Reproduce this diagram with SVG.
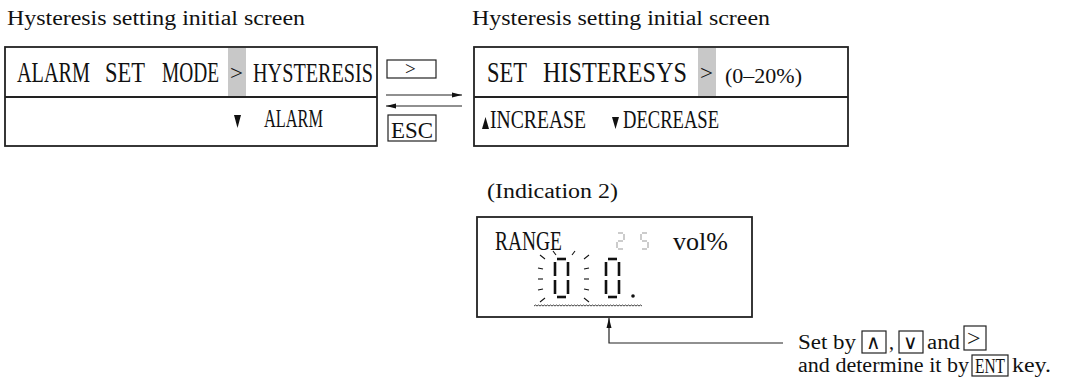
<svg xmlns="http://www.w3.org/2000/svg" width="1084" height="387" viewBox="0 0 1084 387">
<defs>
<style>
.title{font-family:"Liberation Serif",serif;font-size:20px;fill:#111}
.lcd{font-family:"Liberation Serif",serif;fill:#111}
.sym{font-family:"DejaVu Sans",sans-serif;fill:#111}
.box{fill:none;stroke:#222;stroke-width:1.8}
.key{fill:none;stroke:#222;stroke-width:1.2}
.hl{fill:#c8c8c8}
.seg{stroke:#111;stroke-width:2.6;stroke-linecap:butt}
.spark{stroke:#111;stroke-width:1.1}
.seg2{stroke:#aaa;stroke-width:1.2}
.con{fill:none;stroke:#222;stroke-width:1.2}
</style>
<marker id="ah" markerWidth="10" markerHeight="6" refX="10" refY="3" orient="auto" markerUnits="userSpaceOnUse">
<path d="M0,0.5 L10,3 L0,5.5 Z" fill="#111"/>
</marker>
</defs>

<text class="title" x="7" y="25" textLength="298" lengthAdjust="spacingAndGlyphs">Hysteresis setting initial screen</text>
<text class="title" x="472" y="25" textLength="298" lengthAdjust="spacingAndGlyphs">Hysteresis setting initial screen</text>

<g id="screen1">
<rect class="hl" x="228" y="48" width="18" height="49"/>
<rect class="box" x="5" y="47" width="372" height="99"/>
<line class="box" x1="5" y1="97" x2="377" y2="97"/>
<text class="lcd" x="17" y="82" font-size="29" textLength="73" lengthAdjust="spacingAndGlyphs">ALARM</text>
<text class="lcd" x="105" y="82" font-size="29" textLength="40" lengthAdjust="spacingAndGlyphs">SET</text>
<text class="lcd" x="162" y="82" font-size="29" textLength="57" lengthAdjust="spacingAndGlyphs">MODE</text>
<text class="lcd" x="230" y="80" font-size="20" textLength="13" lengthAdjust="spacingAndGlyphs">&gt;</text>
<text class="lcd" x="253" y="82" font-size="27" textLength="120" lengthAdjust="spacingAndGlyphs">HYSTERESIS</text>
<polygon points="234,115 241,115 237.5,128" fill="#111"/>
<text class="lcd" x="264" y="127" font-size="25" textLength="59" lengthAdjust="spacingAndGlyphs">ALARM</text>
</g>

<g id="key-right">
<rect class="key" x="387" y="60" width="49" height="18"/>
<text class="lcd" x="405" y="75" font-size="19">&gt;</text>
</g>
<g id="key-esc">
<rect class="key" x="388" y="115" width="48" height="26"/>
<text class="lcd" x="391" y="138" font-size="24" textLength="42" lengthAdjust="spacingAndGlyphs">ESC</text>
</g>

<g id="screen2">
<rect class="hl" x="698" y="48" width="18" height="49"/>
<rect class="box" x="474" y="47" width="374" height="99"/>
<line class="box" x1="474" y1="97" x2="848" y2="97"/>
<text class="lcd" x="487" y="82" font-size="29" textLength="40" lengthAdjust="spacingAndGlyphs">SET</text>
<text class="lcd" x="543" y="82" font-size="29" textLength="144" lengthAdjust="spacingAndGlyphs">HISTERESYS</text>
<text class="lcd" x="700" y="80" font-size="20" textLength="13" lengthAdjust="spacingAndGlyphs">&gt;</text>
<text class="lcd" x="725" y="83" font-size="21" textLength="77" lengthAdjust="spacingAndGlyphs">(0–20%)</text>
<polygon points="485.5,117 489,129 482,129" fill="#111"/>
<text class="lcd" x="490" y="128" font-size="25" textLength="96" lengthAdjust="spacingAndGlyphs">INCREASE</text>
<polygon points="612,117 619,117 615.5,129" fill="#111"/>
<text class="lcd" x="623" y="128" font-size="25" textLength="96" lengthAdjust="spacingAndGlyphs">DECREASE</text>
</g>

<text id="ind-label" class="title" x="487" y="198" font-size="21" textLength="131" lengthAdjust="spacingAndGlyphs">(Indication 2)</text>

<g id="indication">
<rect class="box" x="477" y="217" width="275" height="100"/>
<text class="lcd" x="495" y="250" font-size="28" textLength="67" lengthAdjust="spacingAndGlyphs">RANGE</text>
<text class="lcd" x="673" y="250" font-size="26" textLength="55" lengthAdjust="spacingAndGlyphs">vol%</text>
<g class="seg2">
<line x1="618" y1="233" x2="623" y2="233"/><line x1="624" y1="234" x2="624" y2="240"/><line x1="618" y1="241" x2="623" y2="241"/><line x1="617" y1="242" x2="617" y2="248"/><line x1="618" y1="249" x2="623" y2="249"/>
<line x1="642" y1="233" x2="647" y2="233"/><line x1="641" y1="234" x2="641" y2="240"/><line x1="642" y1="241" x2="647" y2="241"/><line x1="648" y1="242" x2="648" y2="248"/><line x1="642" y1="249" x2="647" y2="249"/>
</g>
<g class="seg">
<line x1="557" y1="259" x2="566" y2="259"/><line x1="555" y1="262" x2="555" y2="276"/><line x1="555" y1="280" x2="555" y2="294"/><line x1="568" y1="262" x2="568" y2="276"/><line x1="568" y1="280" x2="568" y2="294"/><line x1="557" y1="297" x2="566" y2="297"/>
<line x1="608" y1="259" x2="617" y2="259"/><line x1="606" y1="262" x2="606" y2="276"/><line x1="606" y1="280" x2="606" y2="294"/><line x1="619" y1="262" x2="619" y2="276"/><line x1="619" y1="280" x2="619" y2="294"/><line x1="608" y1="297" x2="617" y2="297"/>
</g>
<circle cx="633" cy="296" r="1.8" fill="#111"/>
<g class="spark">
<line x1="540" y1="255" x2="545" y2="259"/><line x1="538" y1="268" x2="543" y2="269"/><line x1="538" y1="279" x2="543" y2="279"/><line x1="538" y1="290" x2="543" y2="289"/><line x1="540" y1="302" x2="545" y2="298"/>
<line x1="553" y1="251" x2="556" y2="255"/><line x1="575" y1="251" x2="572" y2="255"/>
<line x1="589" y1="255" x2="584" y2="259"/><line x1="584" y1="269" x2="589" y2="268"/><line x1="584" y1="279" x2="589" y2="279"/><line x1="584" y1="289" x2="589" y2="290"/><line x1="584" y1="298" x2="589" y2="302"/>
</g>
<path d="M534,306 l1.5,-1 l1.5,1 l1.5,-1 l1.5,1 l1.5,-1 l1.5,1 l1.5,-1 l1.5,1 l1.5,-1 l1.5,1 l1.5,-1 l1.5,1 l1.5,-1 l1.5,1 l1.5,-1 l1.5,1 l1.5,-1 l1.5,1 l1.5,-1 l1.5,1 l1.5,-1 l1.5,1 l1.5,-1 l1.5,1 l1.5,-1 l1.5,1 l1.5,-1 l1.5,1 l1.5,-1 l1.5,1 l1.5,-1 l1.5,1 l1.5,-1 l1.5,1 l1.5,-1 l1.5,1 l1.5,-1 l1.5,1 l1.5,-1 l1.5,1 l1.5,-1 l1.5,1 l1.5,-1 l1.5,1 l1.5,-1 l1.5,1 l1.5,-1 l1.5,1 l1.5,-1 l1.5,1 l1.5,-1 l1.5,1 l1.5,-1 l1.5,1 l1.5,-1 l1.5,1 l1.5,-1 l1.5,1 l1.5,-1 l1.5,1 l1.5,-1 l1.5,1 l1.5,-1 l1.5,1 l1.5,-1 l1.5,1 l1.5,-1 l1.5,1 l1.5,-1 l1.5,1 l1.5,-1 l1.5,1" fill="none" stroke="#111" stroke-width="0.8"/>
</g>

<g id="note">
<text class="title" x="798" y="349" textLength="58" lengthAdjust="spacingAndGlyphs">Set by</text>
<rect class="key" x="862" y="331" width="24" height="22"/>
<text class="sym" x="866" y="349" font-size="20">∧</text>
<text class="title" x="889" y="349">,</text>
<rect class="key" x="899" y="331" width="24" height="22"/>
<text class="sym" x="903" y="349" font-size="20">∨</text>
<text class="title" x="927" y="349" textLength="33" lengthAdjust="spacingAndGlyphs">and</text>
<rect class="key" x="964" y="326" width="22" height="24"/>
<text class="lcd" x="967" y="346" font-size="24">&gt;</text>
<text class="title" x="798" y="372" textLength="171" lengthAdjust="spacingAndGlyphs">and determine it by</text>
<rect class="key" x="972" y="355" width="36" height="21"/>
<text class="lcd" x="975" y="373" font-size="22" textLength="30" lengthAdjust="spacingAndGlyphs">ENT</text>
<text class="title" x="1012" y="372" textLength="39" lengthAdjust="spacingAndGlyphs">key.</text>
</g>

<g id="connectors">
<line class="con" x1="386" y1="95" x2="462" y2="95" marker-end="url(#ah)"/>
<line class="con" x1="462" y1="106" x2="386" y2="106" marker-end="url(#ah)"/>
<polyline class="con" points="783,343 609,343 609,318" marker-end="url(#ah)"/>
</g>
</svg>
